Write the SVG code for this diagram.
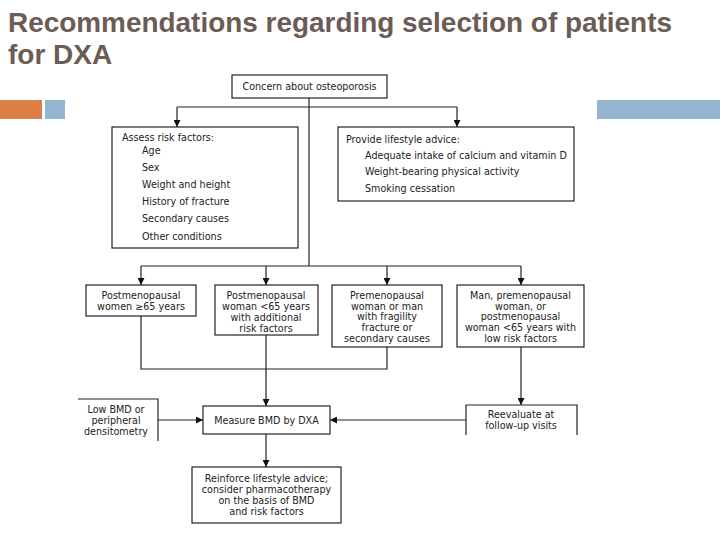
<svg xmlns="http://www.w3.org/2000/svg" width="720" height="540" viewBox="0 0 720 540">
<style>
.title{font-family:"Liberation Sans",Arial,sans-serif;font-weight:bold;font-size:28px;fill:#6b5c55}
.box{fill:#fff;stroke:#222;stroke-width:1.2}
.t{font-family:"DejaVu Sans",Verdana,sans-serif;font-size:9.6px;fill:#222}
.c{text-anchor:middle}
.ln{fill:none;stroke:#222;stroke-width:1.2}
</style>
<defs>
<marker id="ah" viewBox="0 0 10 10" refX="10" refY="5" markerWidth="7" markerHeight="7" orient="auto" markerUnits="userSpaceOnUse">
<path d="M0,0 L10,5 L0,10 z" fill="#111"/>
</marker>
</defs>
<rect width="720" height="540" fill="#fff"/>
<g id="title">
<text class="title" x="8" y="32" textLength="664" lengthAdjust="spacingAndGlyphs">Recommendations regarding selection of patients</text>
<text class="title" x="8" y="64">for DXA</text>
</g>
<g id="deco">
<rect x="0" y="100" width="42" height="19" fill="#dd8047"/>
<rect x="45" y="100" width="20" height="19" fill="#94b6d2"/>
<rect x="597" y="100" width="123" height="19" fill="#94b6d2"/>
</g>
<g id="connectors">
<path class="ln" d="M309,98 V266"/>
<path class="ln" d="M177,107 H457"/>
<path class="ln" d="M177,107 V127" marker-end="url(#ah)"/>
<path class="ln" d="M457,107 V127" marker-end="url(#ah)"/>
<path class="ln" d="M141,266 H521"/>
<path class="ln" d="M141,266 V285" marker-end="url(#ah)"/>
<path class="ln" d="M266,266 V285" marker-end="url(#ah)"/>
<path class="ln" d="M387,266 V285" marker-end="url(#ah)"/>
<path class="ln" d="M521,266 V285" marker-end="url(#ah)"/>
<path class="ln" d="M141,316 V369 H387 V347"/>
<path class="ln" d="M266,335 V406" marker-end="url(#ah)"/>
<path class="ln" d="M521,347 V405" marker-end="url(#ah)"/>
<path class="ln" d="M158,420 H203" marker-end="url(#ah)"/>
<path class="ln" d="M466,420 H330" marker-end="url(#ah)"/>
<path class="ln" d="M266,434 V467" marker-end="url(#ah)"/>
</g>
<g id="concern">
<rect class="box" x="232" y="75" width="155" height="23"/>
<text class="t c" x="309.5" y="90">Concern about osteoporosis</text>
</g>
<g id="assess">
<rect class="box" x="112" y="127" width="186" height="121"/>
<text class="t" x="122" y="141">Assess risk factors:</text>
<text class="t" x="142" y="154">Age</text>
<text class="t" x="142" y="171">Sex</text>
<text class="t" x="142" y="188">Weight and height</text>
<text class="t" x="142" y="205">History of fracture</text>
<text class="t" x="142" y="222">Secondary causes</text>
<text class="t" x="142" y="240">Other conditions</text>
</g>
<g id="lifestyle">
<rect class="box" x="338" y="127" width="236" height="74"/>
<text class="t" x="346" y="143">Provide lifestyle advice:</text>
<text class="t" x="365" y="159">Adequate intake of calcium and vitamin D</text>
<text class="t" x="365" y="175">Weight-bearing physical activity</text>
<text class="t" x="365" y="192">Smoking cessation</text>
</g>
<g id="post65">
<rect class="box" x="86" y="285" width="110" height="31"/>
<text class="t c" x="141" y="299">Postmenopausal</text>
<text class="t c" x="141" y="310">women ≥65 years</text>
</g>
<g id="postlt65">
<rect class="box" x="215" y="285" width="103" height="50"/>
<text class="t c" x="266" y="299">Postmenopausal</text>
<text class="t c" x="266" y="310">woman &lt;65 years</text>
<text class="t c" x="266" y="321">with additional</text>
<text class="t c" x="266" y="332">risk factors</text>
</g>
<g id="premeno">
<rect class="box" x="332" y="285" width="110" height="62"/>
<text class="t c" x="387" y="299">Premenopausal</text>
<text class="t c" x="387" y="310">woman or man</text>
<text class="t c" x="387" y="320">with fragility</text>
<text class="t c" x="387" y="331">fracture or</text>
<text class="t c" x="387" y="342">secondary causes</text>
</g>
<g id="lowrisk">
<rect class="box" x="457" y="285" width="127" height="62"/>
<text class="t c" x="520.5" y="299">Man, premenopausal</text>
<text class="t c" x="520.5" y="310">woman, or</text>
<text class="t c" x="520.5" y="320">postmenopausal</text>
<text class="t c" x="520.5" y="331">woman &lt;65 years with</text>
<text class="t c" x="520.5" y="342">low risk factors</text>
</g>
<g id="lowbmd">
<path class="ln" d="M78,399 H158 V441"/>
<text class="t c" x="116" y="413">Low BMD or</text>
<text class="t c" x="116" y="424">peripheral</text>
<text class="t c" x="116" y="435">densitometry</text>
</g>
<g id="measure">
<rect class="box" x="203" y="406" width="127" height="28"/>
<text class="t c" x="266.5" y="424">Measure BMD by DXA</text>
</g>
<g id="reevaluate">
<path class="ln" d="M466,435 V405 H577 V435"/>
<text class="t c" x="521" y="418">Reevaluate at</text>
<text class="t c" x="521" y="429">follow-up visits</text>
</g>
<g id="reinforce">
<rect class="box" x="192" y="467" width="149" height="56"/>
<text class="t c" x="266.5" y="482">Reinforce lifestyle advice;</text>
<text class="t c" x="266.5" y="493">consider pharmacotherapy</text>
<text class="t c" x="266.5" y="504">on the basis of BMD</text>
<text class="t c" x="266.5" y="515">and risk factors</text>
</g>
</svg>
